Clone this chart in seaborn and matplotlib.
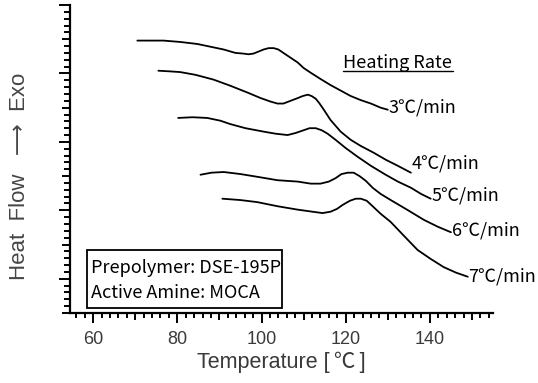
import numpy as np
import pandas as pd
import matplotlib
matplotlib.use("Agg")
import matplotlib.pyplot as plt
from matplotlib.ticker import MultipleLocator, NullFormatter
from matplotlib.patches import Rectangle
import seaborn as sns

# ---- data ----
rates = ["3℃/min", "4℃/min", "5℃/min", "6℃/min", "7℃/min"]

t3 = [70.5, 73.6, 76.7, 80.7, 84.8, 87.9, 91.0, 93.8, 95.7, 96.9, 98.1, 99.3, 100.5, 101.7,
      102.9, 104.0, 105.2, 106.9, 108.6, 110.0, 111.7, 114.0, 116.4, 118.8, 121.2, 123.6,
      126.0, 128.3, 130.0]
h3 = [3.98, 3.98, 3.98, 3.96, 3.93, 3.89, 3.85, 3.80, 3.79, 3.78, 3.79, 3.82, 3.85, 3.87,
      3.87, 3.85, 3.80, 3.73, 3.66, 3.58, 3.51, 3.42, 3.33, 3.25, 3.17, 3.11, 3.06, 3.00, 2.97]

t4 = [75.5, 78.3, 80.7, 84.3, 88.6, 92.6, 96.7, 99.8, 102.1, 103.8, 105.2, 106.9, 108.6,
      109.8, 111.0, 111.9, 112.9, 113.8, 114.8, 116.4, 118.8, 121.2, 123.6, 126.7, 129.5,
      132.4, 135.5]
h4 = [3.54, 3.53, 3.52, 3.48, 3.41, 3.32, 3.22, 3.14, 3.09, 3.06, 3.06, 3.10, 3.14, 3.17,
      3.19, 3.17, 3.13, 3.06, 2.97, 2.82, 2.65, 2.53, 2.44, 2.34, 2.24, 2.15, 2.05]

t5 = [80.2, 83.6, 87.1, 90.2, 92.6, 96.2, 100.5, 103.3, 106.2, 108.1, 110.0, 111.4, 112.9,
      114.3, 115.7, 117.6, 120.0, 122.9, 126.0, 129.5, 132.4, 135.5, 137.9, 140.2]
h5 = [2.85, 2.86, 2.85, 2.81, 2.76, 2.70, 2.65, 2.62, 2.60, 2.63, 2.67, 2.70, 2.70, 2.67,
      2.62, 2.53, 2.41, 2.28, 2.15, 2.02, 1.92, 1.83, 1.74, 1.67]

t6 = [85.5, 88.1, 91.0, 95.0, 99.0, 103.8, 108.6, 111.7, 114.0, 116.0, 117.6, 119.0, 120.5,
      121.9, 123.3, 124.8, 126.4, 128.3, 130.7, 134.3, 138.6, 141.9, 145.0]
h6 = [2.02, 2.05, 2.06, 2.03, 1.99, 1.94, 1.92, 1.89, 1.89, 1.92, 1.97, 2.03, 2.05, 2.05,
      2.00, 1.93, 1.83, 1.74, 1.65, 1.52, 1.36, 1.26, 1.18]

t7 = [90.7, 95.0, 99.0, 103.8, 108.6, 112.1, 114.5, 116.4, 117.9, 119.3, 121.0, 122.4,
      123.6, 125.0, 126.4, 128.3, 130.7, 133.8, 137.1, 140.2, 143.3, 146.2, 149.0]
h7 = [1.67, 1.65, 1.62, 1.56, 1.51, 1.48, 1.46, 1.48, 1.52, 1.58, 1.64, 1.67, 1.67, 1.64,
      1.56, 1.45, 1.33, 1.13, 0.92, 0.79, 0.67, 0.59, 0.53]

temps = [t3, t4, t5, t6, t7]
heats = [h3, h4, h5, h6, h7]

xticks = [60, 80, 100, 120, 140]
box_lines = ["Prepolymer: DSE-195P", "Active Amine: MOCA"]
legend_title = "Heating Rate"

df = pd.concat(
    [pd.DataFrame({"T": t, "H": h, "rate": r})
     for t, h, r in zip(temps, heats, rates)],
    ignore_index=True,
)

# ---- style ----
sns.set_style("ticks")
plt.rcParams["font.family"] = ["Liberation Sans", "Noto Sans CJK KR", "DejaVu Sans"]
CJK = ["Noto Sans CJK KR", "DejaVu Sans"]
grey = "#3a3a3a"

fig = plt.figure(figsize=(5.38, 3.83), dpi=100)
ax = fig.add_axes([70 / 538, 1 - 313 / 383, 423 / 538, 308 / 383])

sns.lineplot(data=df, x="T", y="H", hue="rate", units="rate", estimator=None,
             sort=False, palette=["black"] * len(rates), linewidth=1.3,
             legend=False, ax=ax)
for ln in ax.lines:
    ln.set_solid_joinstyle("round")
    ln.set_solid_capstyle("round")

ax.set_xlim(54.5, 155)
ax.set_ylim(0, 4.5)

for s in ["top", "right"]:
    ax.spines[s].set_visible(False)
for s in ["left", "bottom"]:
    ax.spines[s].set_linewidth(1.6)
    ax.spines[s].set_color("black")

# x ticks
ax.xaxis.set_major_locator(MultipleLocator(20))
ax.xaxis.set_minor_locator(MultipleLocator(2))
ax.set_xticks(xticks)
ax.tick_params(axis="x", which="major", direction="out", length=7, width=1.4,
               labelsize=13, labelcolor=grey, pad=6, color="black")
ax.tick_params(axis="x", which="minor", direction="out", length=3.5, width=1.4, color="black")

# y ticks
ax.yaxis.set_major_locator(MultipleLocator(1, offset=0.5))
ax.yaxis.set_minor_locator(MultipleLocator(0.1))
ax.yaxis.set_major_formatter(NullFormatter())
ax.tick_params(axis="y", which="major", direction="out", length=8, width=1.4, color="black")
ax.tick_params(axis="y", which="minor", direction="out", length=4.3, width=1.4, color="black")

fig.canvas.draw()
for tk in ax.xaxis.get_minor_ticks():
    loc = tk.get_loc()
    if loc is not None and abs(loc / 10 - round(loc / 10)) < 1e-6:
        tk.tick1line.set_markersize(5.2)
for tk in ax.yaxis.get_minor_ticks():
    loc = tk.get_loc()
    if loc is not None and abs(loc - round(loc)) < 1e-6:
        tk.tick1line.set_markersize(6.0)

ax.set_xlabel("Temperature [\u2009℃\u2009]", fontsize=15.5, color=grey)
ax.xaxis.set_label_coords(0.50, -0.125)
ax.set_ylabel("Heat  Flow   ⟶  Exo", fontsize=16, color="#454545")
ax.yaxis.set_label_coords(-0.095, 0.445)

# curve labels at the end of each curve
offs = [0.03, 0.14, 0.04, 0.03, 0.01]
for t, h, r, o in zip(temps, heats, rates, offs):
    ax.text(t[-1] + 0.2, h[-1] + o, r, fontsize=13, family=CJK, ha="left",
            va="center", color="black")

# legend title with underline
ax.text(0.775, 0.797, legend_title, transform=ax.transAxes, fontsize=13,
        family=CJK, ha="center", va="baseline", color="black")
ax.plot([0.645, 0.905], [0.786, 0.786], transform=ax.transAxes, color="black",
        lw=1.0, clip_on=False)

# sample box
ax.add_patch(Rectangle((0.040, 0.016), 0.461, 0.188, transform=ax.transAxes,
                       fill=False, edgecolor="black", lw=1.3))
ax.text(0.050, 0.146, box_lines[0], transform=ax.transAxes, fontsize=13,
        family=CJK, ha="left", va="center", color="black")
ax.text(0.050, 0.065, box_lines[1], transform=ax.transAxes, fontsize=13,
        family=CJK, ha="left", va="center", color="black")

fig.savefig("out.png", dpi=100)
